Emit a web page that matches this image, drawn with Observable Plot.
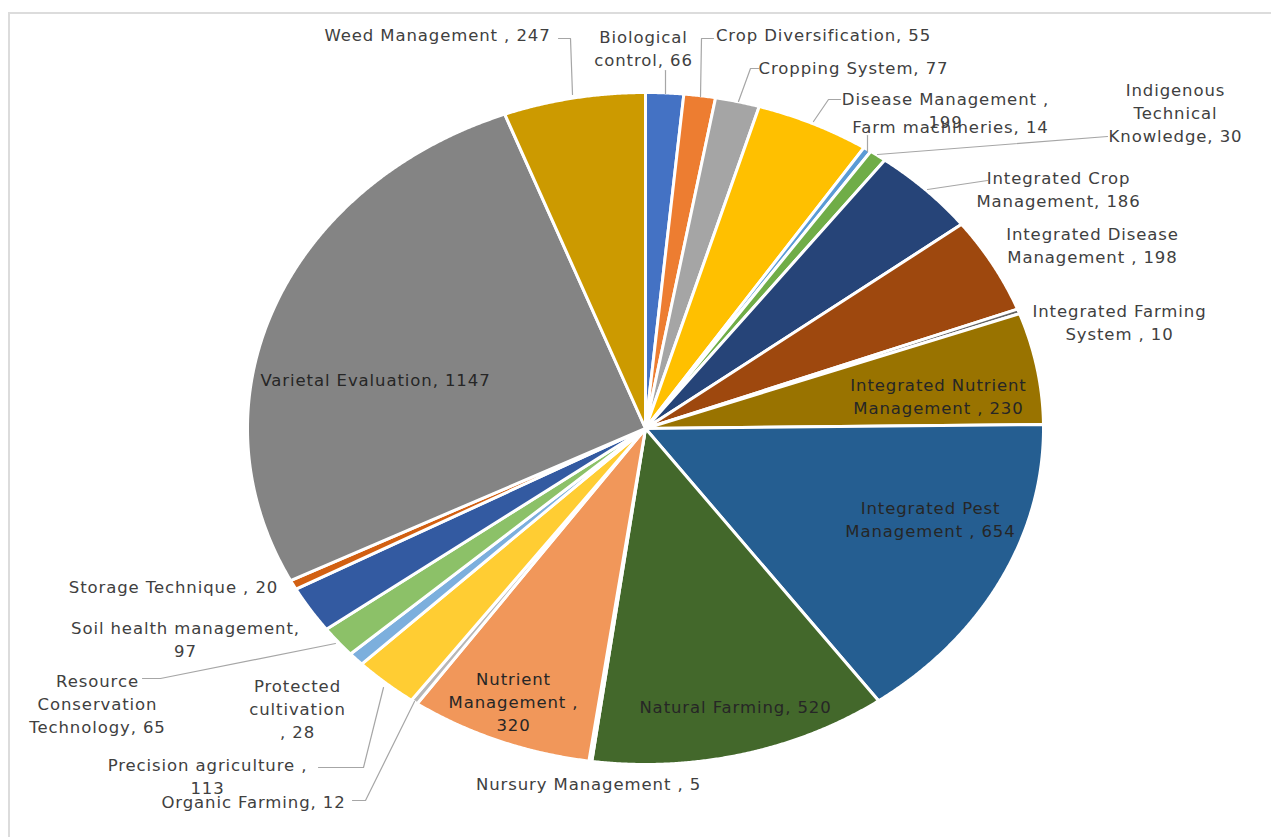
<!DOCTYPE html>
<html><head><meta charset="utf-8">
<script src="https://cdn.jsdelivr.net/npm/d3@7"></script>
<script src="https://cdn.jsdelivr.net/npm/@observablehq/plot@0.6"></script>
<style>
body{margin:0;background:#fff;}
#wrap{position:relative;width:1271px;height:837px;overflow:hidden;}
#frame{position:absolute;left:8px;top:12px;width:1400px;height:1000px;border-left:2px solid #dcdcdc;border-top:2px solid #dcdcdc;}
#chart{position:absolute;left:0;top:0;}
</style></head><body><div id="wrap"><div id="frame"></div><div id="chart"></div></div>
<script>
// ---- data ----
const categories = ["Biological control","Crop Diversification","Cropping System","Disease Management","Farm machineries","Indigenous Technical Knowledge","Integrated Crop Management","Integrated Disease Management","Integrated Farming System","Integrated Nutrient Management","Integrated Pest Management","Natural Farming","Nursury Management","Nutrient Management","Organic Farming","Precision agriculture","Protected cultivation","Resource Conservation Technology","Soil health management","Storage Technique","Varietal Evaluation","Weed Management"];
const values = [66,55,77,199,14,30,186,198,10,230,654,520,5,320,12,113,28,65,97,20,1147,247];
const colors = ["#4472C4","#ED7D31","#A5A5A5","#FFC000","#5B9BD5","#70AD47","#264478","#9E480E","#636363","#997300","#255E91","#43682B","#698ED0","#F1975A","#B7B7B7","#FFCD33","#7CAFDD","#8CC168","#335AA1","#D26012","#848484","#CC9A00"];
const labelTexts = ["Biological\ncontrol, 66","Crop Diversification, 55","Cropping System, 77","Disease Management ,\n199","Farm machineries, 14","Indigenous\nTechnical\nKnowledge, 30","Integrated Crop\nManagement, 186","Integrated Disease\nManagement , 198","Integrated Farming\nSystem , 10","Integrated Nutrient\nManagement , 230","Integrated Pest\nManagement , 654","Natural Farming, 520","Nursury Management , 5","Nutrient\nManagement ,\n320","Organic Farming, 12","Precision agriculture ,\n113","Protected\ncultivation\n, 28","Resource\nConservation\nTechnology, 65","Soil health management,\n97","Storage Technique , 20","Varietal Evaluation, 1147","Weed Management , 247"];
const insideLabels = ["Integrated Nutrient Management","Integrated Pest Management","Natural Farming","Nutrient Management","Varietal Evaluation"];

// ---- layout (pixels) ----
const cx = 645, cy = 428, rx = 398, ry = 336;
const labelPos = [[643,47],[823,33],[853,66],[945,109],[950,125],[1175,111],[1058,188],[1092,244],[1119,321],[938,395],[930,518],[735,705],[588,782],[513,700],[253,800],[207,775],[297,707],[97,702],[185,638],[173,585],[375,378],[437,33]];
const leaderPaths = {
  "Weed Management": [[558,38],[570,38],[572,94]],
  "Biological control": [[665,70],[665,93]],
  "Crop Diversification": [[713,38],[701,38],[700,96]],
  "Cropping System": [[758,68],[750,68],[738,101]],
  "Disease Management": [[840,99],[828,99],[813,121]],
  "Farm machineries": [[867,135],[867,151]],
  "Indigenous Technical Knowledge": [[1107,136],[877,154]],
  "Integrated Crop Management": [[987,180],[927,189]],
  "Precision agriculture": [[318,767],[363,767],[383,687]],
  "Organic Farming": [[352,800],[365,800],[414,701]],
  "Resource Conservation Technology": [[142,678],[160,678],[335,643]]
};
const toX = px => (px - cx) / rx;
const toY = py => (cy - py) / ry;

// ---- slices ----
const arcs = d3.pie().sort(null).value(d => d)(values);
const slicePts = [];
arcs.forEach((a, i) => {
  const n = Math.max(2, Math.ceil((a.endAngle - a.startAngle) / 0.004));
  slicePts.push({name: categories[i], color: colors[i], x: 0, y: 0});
  for (let k = 0; k <= n; k++) {
    const t = a.startAngle + (a.endAngle - a.startAngle) * k / n;
    slicePts.push({name: categories[i], color: colors[i], x: Math.sin(t), y: Math.cos(t)});
  }
  slicePts.push({name: categories[i], color: colors[i], x: 0, y: 0});
});

const leaderPts = [];
Object.entries(leaderPaths).forEach(([name, pts]) => pts.forEach(p => leaderPts.push({name, x: toX(p[0]), y: toY(p[1])})));

const labelData = categories.map((c, i) => ({
  name: c, text: labelTexts[i],
  x: toX(labelPos[i][0]), y: toY(labelPos[i][1]),
  fill: insideLabels.includes(c) ? "#262626" : "#404040"
}));

const chart = Plot.plot({
  width: 1271, height: 837, margin: 0,
  x: {domain: [-1, 1], range: [cx - rx, cx + rx], axis: null},
  y: {domain: [-1, 1], range: [cy + ry, cy - ry], axis: null},
  color: {type: "identity"},
  style: {fontFamily: "DejaVu Sans", letterSpacing: "0.9px", background: "transparent", overflow: "visible"},
  marks: [
    Plot.line(slicePts, {x: "x", y: "y", z: "name", fill: "color", stroke: "white", strokeWidth: 3, strokeLinejoin: "round", curve: "linear"}),
    Plot.line(leaderPts, {x: "x", y: "y", z: "name", stroke: "#a6a6a6", strokeWidth: 1.2}),
    Plot.text(labelData, {x: "x", y: "y", text: "text", fill: "fill", fontSize: 16.5, lineHeight: 1.4, textAnchor: "middle"})
  ]
});
document.getElementById("chart").appendChild(chart);
</script></body></html>
